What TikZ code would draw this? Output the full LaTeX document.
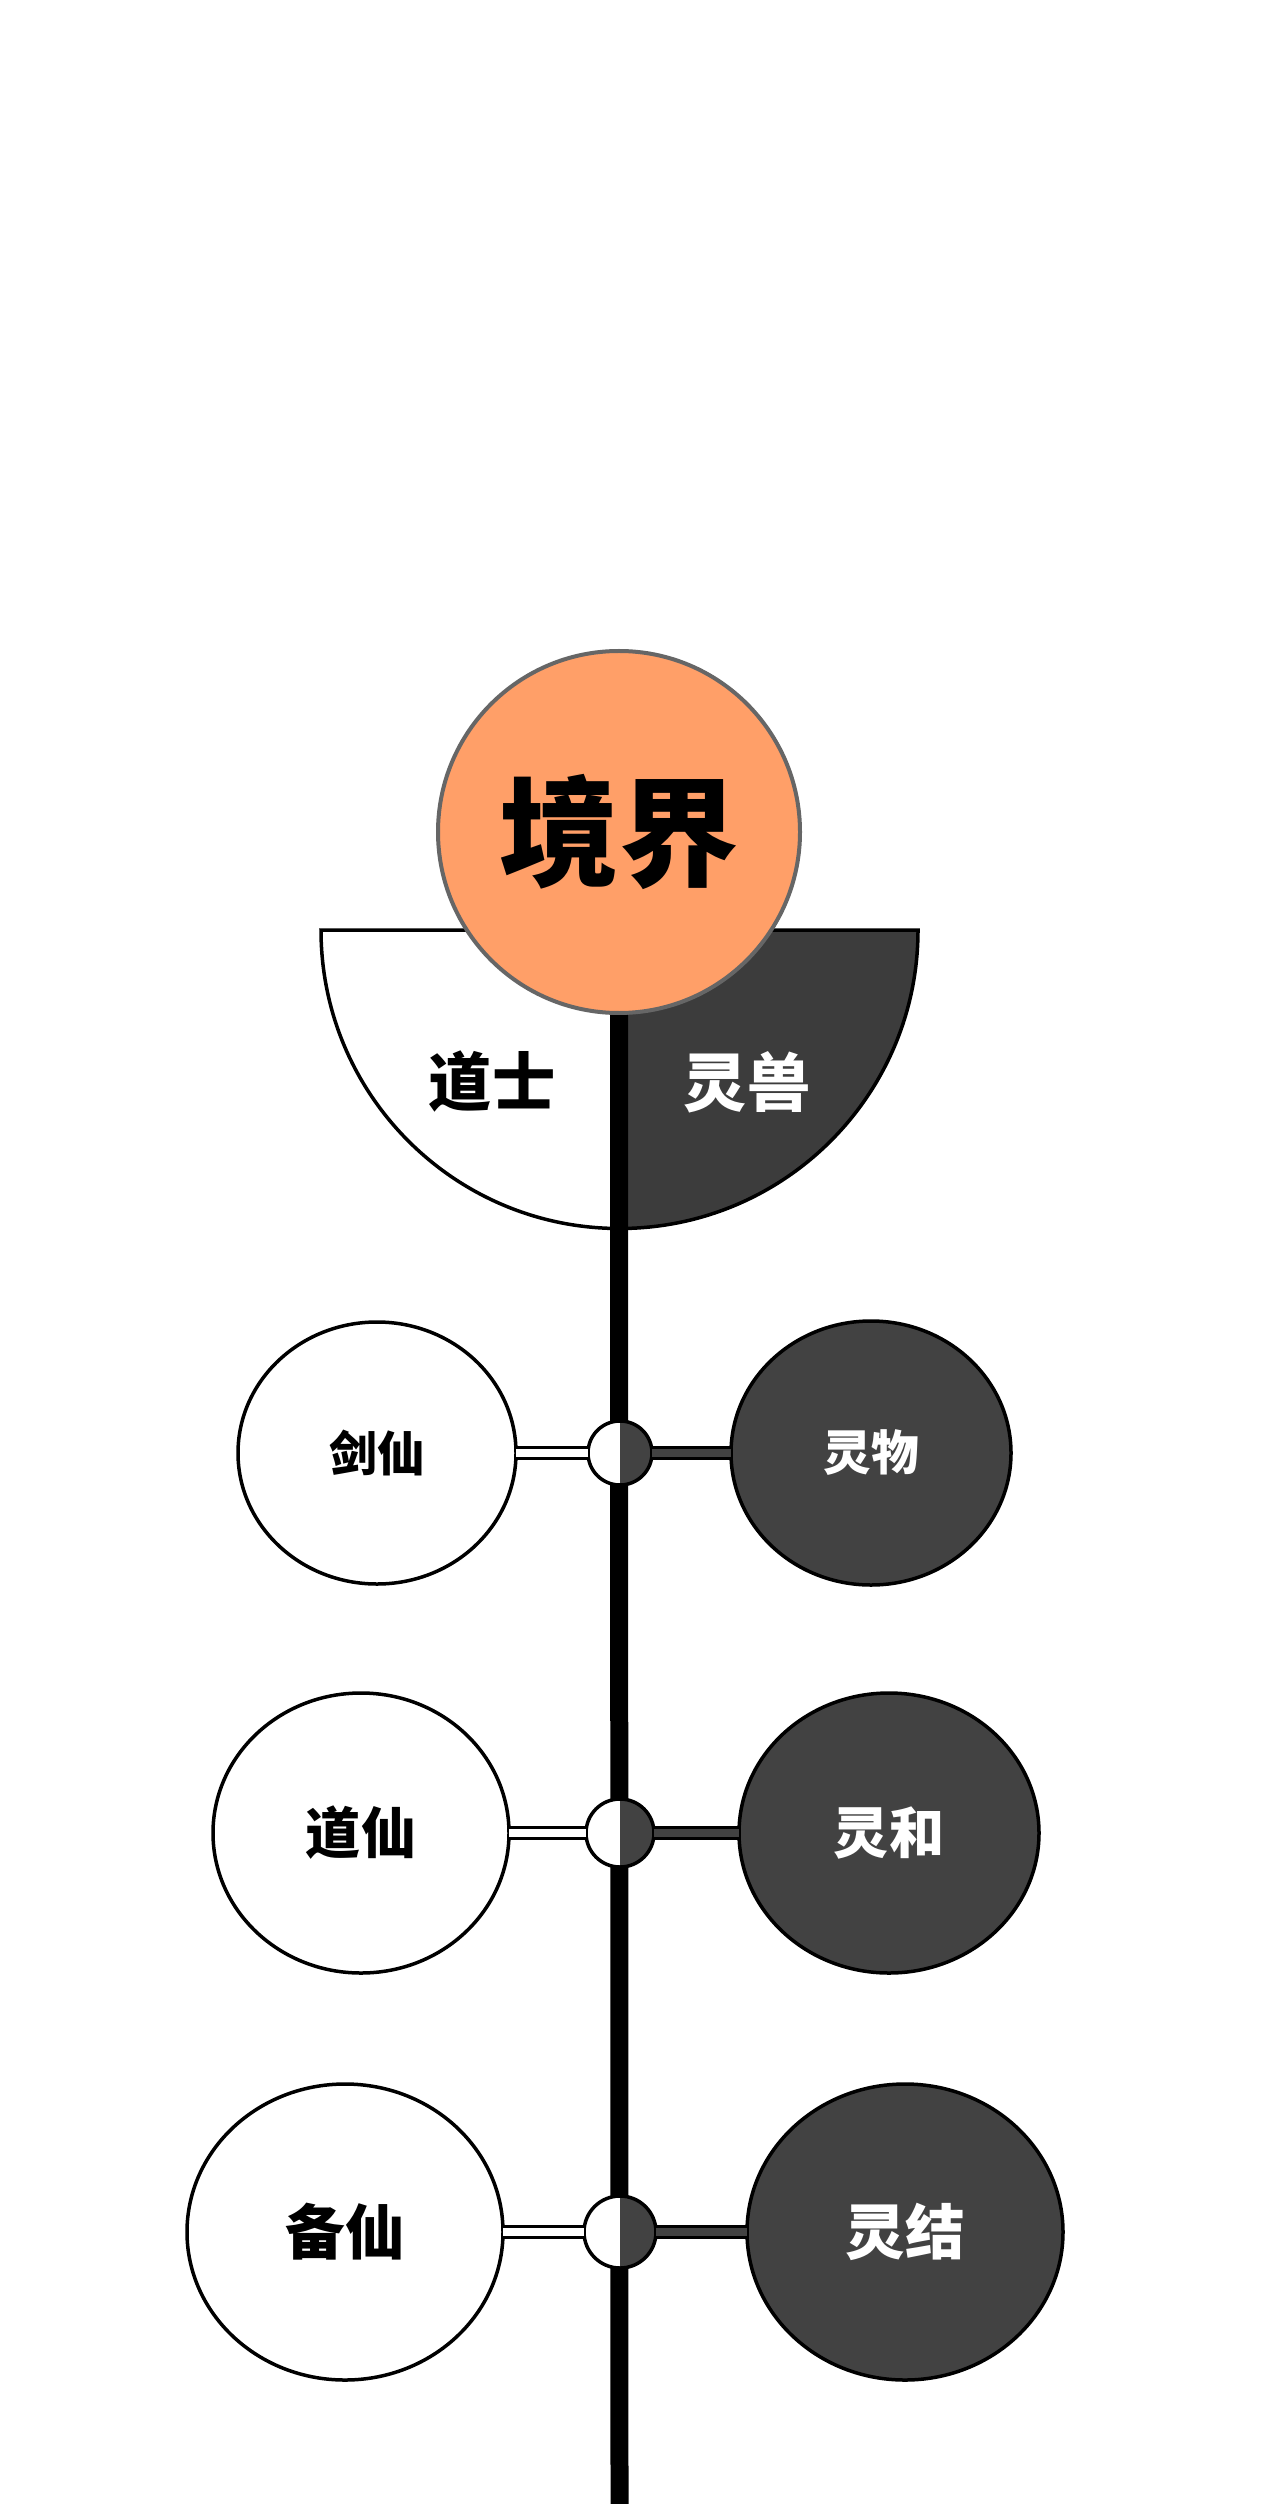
\documentclass[tikz,border=0pt]{standalone}
\usepackage{fontspec}
\newfontfamily\cjk{Noto Sans CJK SC}
\usepackage{tikz}
\usetikzlibrary{
	shapes.geometric,
	positioning,
	calc
}
\definecolor{realmorange}{HTML}{FF9F68}
\definecolor{spiritgray}{HTML}{424242}
\definecolor{beastgray}{HTML}{3C3C3C}
\definecolor{rimgray}{HTML}{666666}

\begin{document}
\begin{tikzpicture}[
	realm/.style={
		circle, draw=rimgray, line width=0.04cm, fill=realmorange,
		minimum size=3.62cm, inner sep=0pt,
		font=\cjk\bfseries\fontsize{34pt}{34pt}\selectfont
	},
	halfdisc/.style={draw, line width=0.035cm},
	sidetext/.style={font=\cjk\bfseries\fontsize{18pt}{18pt}\selectfont},
	whiteball/.style={
		ellipse, draw, line width=0.035cm, fill=white, inner sep=0pt
	},
	darkball/.style={
		whiteball, fill=spiritgray, text=white
	},
	hub/.style={
		circle, draw, line width=0.035cm, fill=white, inner sep=0pt,
		path picture={\fill[spiritgray] (path picture bounding box.north) rectangle (path picture bounding box.south east);}
	},
	whitelink/.style={
		line width=0.028cm, double=white, double distance=0.08cm,
		shorten <=-0.5pt, shorten >=-0.5pt
	},
	darklink/.style={
		whitelink, double=spiritgray
	},
	stemline/.style={line width=0.18cm},
	]
	
	\useasboundingbox (0,0) rectangle (12.8,-25.04);
	
	%half disc
	\coordinate (hinge) at (6.195,-9.30);
	\fill[white] (hinge) -- (3.21,-9.30) arc[start angle=180, end angle=270, radius=2.985] -- cycle;
	\fill[beastgray] (hinge) -- (9.18,-9.30) arc[start angle=0, end angle=-90, radius=2.985] -- cycle;
	\draw[halfdisc] (3.21,-9.30) -- (9.18,-9.30) arc[start angle=0, end angle=-180, radius=2.985] -- cycle;
	
	\node[sidetext] (daoshi) at (4.92,-10.82) {道士};
	\node[sidetext, text=white] (lingshou) at (7.47,-10.82) {灵兽};
	
	%top
	\node[realm] (jingjie) at (6.19,-8.32) {境界};
	\coordinate (stem end) at (6.195,-25.04);
	\draw[stemline] (jingjie.south) -- (stem end);
	
	%1. set
	\node[hub, minimum size=0.64cm] (hubA) at (6.2,-14.53) {};
	\node[whiteball, minimum width=2.78cm, minimum height=2.62cm, font=\cjk\bfseries\fontsize{13.6pt}{13.6pt}\selectfont] (jianxian) at (3.77,-14.53) {剑仙};
	\node[darkball, minimum width=2.80cm, minimum height=2.64cm, font=\cjk\bfseries\fontsize{13.6pt}{13.6pt}\selectfont] (lingwu) at (8.71,-14.53) {灵物};
	\draw[whitelink] (hubA.west) -- (jianxian.east);
	\draw[darklink] (hubA.east) -- (lingwu.west);
	
	%2. set
	\node[hub, minimum size=0.68cm] (hubB) at (6.2,-18.33) {};
	\node[whiteball, minimum width=2.96cm, minimum height=2.80cm, font=\cjk\bfseries\fontsize{15.7pt}{15.7pt}\selectfont] (daoxian) at (3.61,-18.33) {道仙};
	\node[darkball, minimum width=3.00cm, minimum height=2.80cm, font=\cjk\bfseries\fontsize{15.7pt}{15.7pt}\selectfont] (linghe) at (8.89,-18.33) {灵和};
	\draw[whitelink] (hubB.west) -- (daoxian.east);
	\draw[darklink] (hubB.east) -- (linghe.west);
	
	%3. set
	\node[hub, minimum size=0.72cm] (hubC) at (6.2,-22.32) {};
	\node[whiteball, minimum width=3.16cm, minimum height=2.96cm, font=\cjk\bfseries\fontsize{17pt}{17pt}\selectfont] (beixian) at (3.45,-22.32) {备仙};
	\node[darkball, minimum width=3.16cm, minimum height=2.96cm, font=\cjk\bfseries\fontsize{17pt}{17pt}\selectfont] (lingjie) at (9.05,-22.32) {灵结};
	\draw[whitelink] (hubC.west) -- (beixian.east);
	\draw[darklink] (hubC.east) -- (lingjie.west);
\end{tikzpicture}
\end{document}
